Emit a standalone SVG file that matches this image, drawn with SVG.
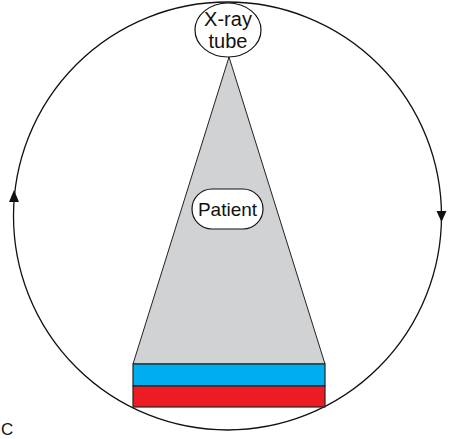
<svg xmlns="http://www.w3.org/2000/svg" width="450" height="439" viewBox="0 0 450 439">
<style>
text{font-family:"Liberation Sans",Arial,sans-serif;fill:#111}
.ln{fill:none;stroke:#111;stroke-width:1.3}
</style>
<rect width="450" height="439" fill="#fff"/>
<g id="connectors">
<circle class="ln" cx="227.5" cy="216" r="214"/>
<polygon points="14,190 9,202 19,202" fill="#111"/>
<polygon points="441.5,222 436.5,211 446.5,211" fill="#111"/>
</g>
<g id="beam">
<polygon points="229,57 133,364 325,364" fill="#d1d2d4" stroke="#222" stroke-width="1"/>
</g>
<g id="detector">
<rect x="133" y="364" width="192" height="22" fill="#00aeef" stroke="#222" stroke-width="1.2"/>
<rect x="133" y="386" width="192" height="21" fill="#ed1c24" stroke="#222" stroke-width="1.2"/>
</g>
<g id="tube">
<ellipse cx="228" cy="30" rx="33" ry="27" fill="#fff" stroke="#111" stroke-width="1.2"/>
<text x="228" y="25.5" font-size="20" text-anchor="middle">X-ray</text>
<text x="228" y="47.5" font-size="20" text-anchor="middle">tube</text>
</g>
<g id="patient">
<rect x="192" y="189" width="71" height="40" rx="20" fill="#fff" stroke="#111" stroke-width="1.2"/>
<text x="227.5" y="216" font-size="19" text-anchor="middle">Patient</text>
</g>
<text x="1" y="435" font-size="17">C</text>
</svg>
